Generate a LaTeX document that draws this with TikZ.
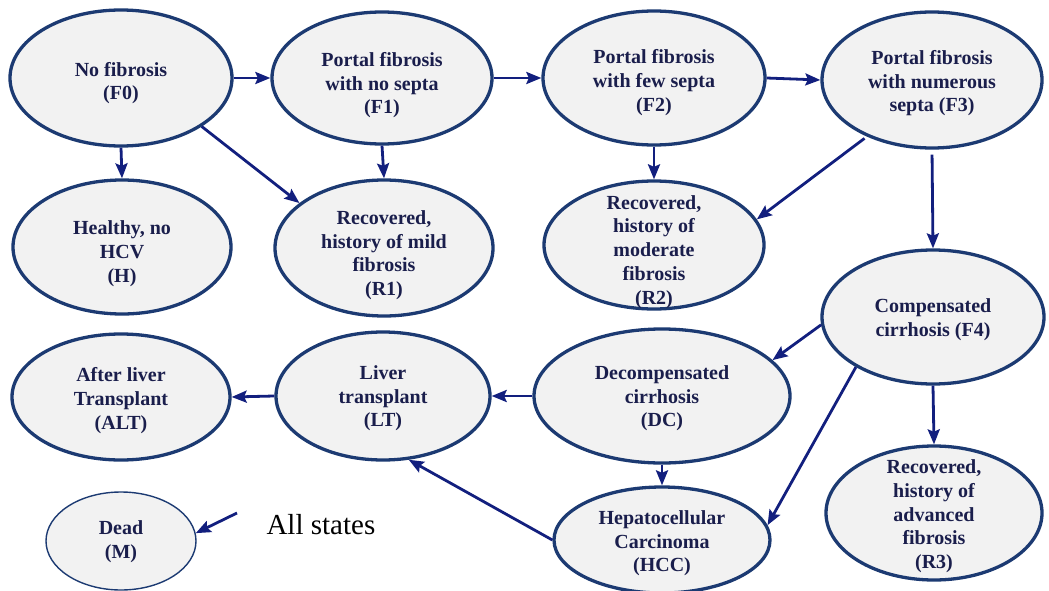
\documentclass[tikz,border=0pt]{standalone}
\usepackage{fontspec}
\setmainfont{Liberation Serif}
\usetikzlibrary{shapes.geometric,arrows.meta}
\definecolor{edgeblue}{HTML}{1C3A72}
\definecolor{arrowblue}{HTML}{121F7E}
\definecolor{textnavy}{HTML}{1A1E4C}
\definecolor{statefill}{HTML}{F2F2F2}
% centred lines of a state label, kept out of the node's size so that the
% ellipse keeps its given dimensions; the optional shift lowers the text
\newcommand\statelines[2][-10.5pt]{%
  \makebox[0pt]{\raisebox{#1}[0pt][0pt]{\begin{tabular}{@{}c@{}}#2\end{tabular}}}}
\begin{document}
\begin{tikzpicture}[x=1pt,y=-1pt,
  state/.style={ellipse, draw=edgeblue, line width=3.3pt, fill=statefill,
    inner sep=0pt, text=textnavy,
    font=\fontsize{20}{23.75}\selectfont\bfseries},
  thinstate/.style={state, line width=1.4pt},
  flow/.style={draw=arrowblue, line width=2.8pt,
    -{Stealth[length=15pt,width=12pt,inset=2.5pt]}}]
\useasboundingbox (0,0) rectangle (1049,591);

% fibrosis stages
\node[state, minimum width=222pt, minimum height=136pt] (F0) at (121,78) {\statelines{No fibrosis\\(F0)}};
\node[state, minimum width=220pt, minimum height=132pt] (F1) at (382,78) {\statelines[-12.5pt]{Portal fibrosis\\with no septa\\(F1)}};
\node[state, minimum width=222pt, minimum height=134pt] (F2) at (654,78) {\statelines[-10pt]{Portal fibrosis\\with few septa\\(F2)}};
\node[state, minimum width=220pt, minimum height=136pt] (F3) at (932,80) {\statelines[-8.5pt]{Portal fibrosis\\with numerous\\septa (F3)}};

% recovered states
\node[state, minimum width=218pt, minimum height=134pt] (H) at (122,247) {\statelines[-12pt]{Healthy, no\\HCV\\(H)}};
\node[state, minimum width=218pt, minimum height=136pt] (R1) at (384,248) {\statelines[-12.5pt]{Recovered,\\history of mild\\fibrosis\\(R1)}};
\node[state, minimum width=220pt, minimum height=128pt] (R2) at (654,245) {\statelines[-12pt]{Recovered,\\history of\\moderate\\fibrosis\\(R2)}};

% cirrhosis and beyond
\node[state, minimum width=222pt, minimum height=134pt] (F4) at (933,317) {\statelines[-8pt]{Compensated\\cirrhosis (F4)}};
\node[state, minimum width=256pt, minimum height=134pt] (DC) at (662,396) {\statelines[-7.5pt]{Decompensated\\cirrhosis\\(DC)}};
\node[state, minimum width=216pt, minimum height=106pt] (HCC) at (662,540) {\statelines[-8.5pt]{Hepatocellular\\Carcinoma\\(HCC)}};
\node[state, minimum width=216pt, minimum height=134pt] (R3) at (934,513) {\statelines[-8.5pt]{Recovered,\\history of\\advanced\\fibrosis\\(R3)}};
\node[state, minimum width=214pt, minimum height=128pt] (LT) at (383,396) {\statelines[-7.5pt]{Liver\\transplant\\(LT)}};
\node[state, minimum width=218pt, minimum height=126pt] (ALT) at (121,397) {\statelines[-9pt]{After liver\\Transplant\\(ALT)}};

% absorbing state
\node[thinstate, minimum width=150pt, minimum height=98pt] (M) at (121,541) {\statelines[-6pt]{Dead\\(M)}};
\node[font=\fontsize{29}{32}\selectfont, text=black, anchor=west] (all) at (263,525) {All states};
\coordinate (allsrc) at (237,513);

% transitions
\draw[flow] (F0.east) -- (F1.west);
\draw[flow] (F1.east) -- (F2.west);
\draw[flow] (F2.east) -- (F3.west);
\draw[flow] (F0.south) -- (H.north);
\draw[flow] (F0.-31) -- (R1.152);
\draw[flow] (F1.south) -- (R1.north);
\draw[flow] (F2.south) -- (R2.north);
\draw[flow, shorten <=3pt] (F3.-139) -- (R2.14);
\draw[flow, shorten <=5pt] (F3.south) -- (F4.north);
\draw[flow] (F4.184) -- (DC.18);
\draw[flow] (F4.-147) -- (HCC.8);
\draw[flow] (F4.south) -- (R3.north);
\draw[flow] (DC.west) -- (LT.east);
\draw[flow] (DC.south) -- (HCC.north);
\draw[flow] (HCC.west) -- (LT.-68);
\draw[flow] (LT.west) -- (ALT.east);
\draw[flow] (allsrc) -- (M.6);
\end{tikzpicture}
\end{document}
